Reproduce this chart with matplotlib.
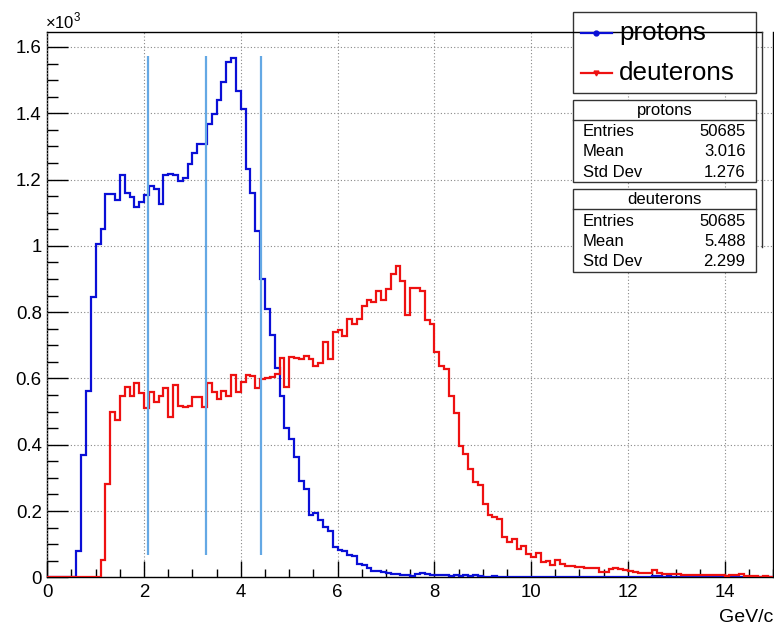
import matplotlib
matplotlib.use("Agg")
import matplotlib.pyplot as plt
import numpy as np
from matplotlib.patches import Rectangle

plt.rcParams['font.family'] = ['Liberation Sans', 'DejaVu Sans']
plt.rcParams['mathtext.fontset'] = 'custom'
plt.rcParams['mathtext.rm'] = 'Liberation Sans'

# momentum bins, 150 bins of 0.1 GeV/c from 0 to 15
nbins = 150
x_min, x_max = 0.0, 15.0

# counts per bin, in units of 10^3
protons = [
    0, 0, 0, 0, 0, 0, 0.078, 0.368, 0.562, 0.845,
    1.007, 1.050, 1.155, 1.155, 1.139, 1.214, 1.159, 1.148, 1.118, 1.133,
    1.153, 1.181, 1.171, 1.125, 1.213, 1.217, 1.213, 1.197, 1.204, 1.246,
    1.281, 1.308, 1.308, 1.368, 1.398, 1.441, 1.493, 1.556, 1.566, 1.467,
    1.412, 1.231, 1.160, 1.044, 0.901, 0.810, 0.731, 0.630, 0.547, 0.451,
    0.416, 0.364, 0.290, 0.267, 0.189, 0.194, 0.172, 0.152, 0.140, 0.090,
    0.083, 0.078, 0.068, 0.065, 0.040, 0.038, 0.027, 0.020, 0.018, 0.016,
    0.012, 0.011, 0.010, 0.006, 0.006, 0.005, 0.011, 0.012, 0.009, 0.006,
    0.007, 0.006, 0.007, 0.005, 0.007, 0.005, 0.006, 0.004, 0.006, 0.003,
    0.002, 0.002, 0.003, 0.002, 0.002, 0.001, 0.002, 0.001, 0.001, 0.002,
    0.001, 0.001, 0.002, 0.001, 0.001, 0.001, 0.002, 0.001, 0.001, 0.001,
    0.001, 0.001, 0.001, 0.000, 0.001, 0.001, 0.000, 0.001, 0.000, 0.000,
    0.000, 0.001, 0.000, 0.000, 0.000, 0.003, 0.003, 0.002, 0.003, 0.002,
    0.002, 0.001, 0.000, 0.000, 0.000, 0.001, 0.000, 0.000, 0.000, 0.000,
    0, 0, 0, 0, 0, 0, 0, 0, 0, 0,
]

deuterons = [
    0, 0, 0, 0, 0, 0, 0, 0, 0, 0,
    0.0, 0.052, 0.280, 0.499, 0.475, 0.547, 0.573, 0.547, 0.585, 0.555,
    0.510, 0.558, 0.530, 0.547, 0.572, 0.484, 0.580, 0.518, 0.515, 0.518,
    0.545, 0.543, 0.515, 0.586, 0.560, 0.538, 0.561, 0.548, 0.611, 0.559,
    0.588, 0.611, 0.606, 0.572, 0.599, 0.602, 0.604, 0.612, 0.661, 0.575,
    0.664, 0.661, 0.658, 0.667, 0.659, 0.636, 0.648, 0.709, 0.659, 0.741,
    0.746, 0.727, 0.780, 0.765, 0.780, 0.820, 0.838, 0.830, 0.865, 0.838,
    0.869, 0.916, 0.939, 0.893, 0.790, 0.873, 0.873, 0.865, 0.775, 0.765,
    0.679, 0.638, 0.628, 0.547, 0.497, 0.396, 0.371, 0.327, 0.287, 0.277,
    0.222, 0.187, 0.181, 0.176, 0.121, 0.105, 0.115, 0.085, 0.093, 0.071,
    0.062, 0.073, 0.047, 0.050, 0.037, 0.052, 0.040, 0.035, 0.033, 0.032,
    0.030, 0.029, 0.027, 0.028, 0.016, 0.017, 0.026, 0.027, 0.026, 0.022,
    0.019, 0.016, 0.014, 0.013, 0.012, 0.021, 0.013, 0.011, 0.010, 0.009,
    0.009, 0.008, 0.007, 0.008, 0.006, 0.007, 0.006, 0.007, 0.006, 0.006,
    0.005, 0.006, 0.007, 0.011, 0.004, 0.003, 0.003, 0.002, 0.003, 0.002,
]

# vertical cut lines
cut_x = [2.08, 3.29, 4.41]
cut_lo, cut_hi = 0.067, 1.573

legend_names = ['protons', 'deuterons']
stat_names = ['Entries', 'Mean', 'Std Dev']
stat_protons = ['50685', '3.016', '1.276']
stat_deuterons = ['50685', '5.488', '2.299']

c_p = '#0a0fd6'
c_d = '#ee1111'
c_cut = '#64a8e4'

W, H = 774, 626
fig = plt.figure(figsize=(W / 100, H / 100), dpi=100)

# axes box in pixels
L, R, T, B = 47.3, 773.0, 32.3, 577.3
ax = fig.add_axes([L / W, (H - B) / H, (R - L) / W, (B - T) / H])

edges = np.linspace(x_min, x_max, nbins + 1)
ax.stairs(protons, edges, color=c_p, lw=1.6, baseline=None, zorder=3)
ax.stairs(deuterons, edges, color=c_d, lw=1.6, baseline=None, zorder=3)
ax.vlines(cut_x, cut_lo, cut_hi, color=c_cut, lw=1.6, zorder=4)

ax.set_xlim(x_min, x_max)
ax.set_ylim(0, 1.05 * max(protons))

ax.set_xticks(np.arange(0, 15, 2))
ax.set_xticks(np.arange(0, 15.01, 0.5), minor=True)
ax.set_yticks(np.arange(0, 1.61, 0.2))
ax.set_yticks(np.arange(0, 1.64, 0.05), minor=True)
ax.set_yticklabels(['0', '0.2', '0.4', '0.6', '0.8', '1', '1.2', '1.4', '1.6'])
ax.set_xticklabels([str(v) for v in range(0, 15, 2)])

ax.tick_params(axis='both', which='both', direction='in', colors='black',
               labelsize=13.4, width=1.0)
ax.tick_params(axis='x', which='major', length=11.3, pad=5)
ax.tick_params(axis='x', which='minor', length=5.8)
ax.tick_params(axis='y', which='major', length=15, pad=4)
ax.tick_params(axis='y', which='minor', length=8)
ax.tick_params(axis='both', which='both', top=False, right=False)

ax.grid(True, which='major', ls=(0, (1, 2)), color='#888888', lw=0.8)
ax.set_axisbelow(False)
for s in ['top']:
    ax.spines[s].set_visible(False)
for s in ['left', 'bottom', 'right']:
    ax.spines[s].set_linewidth(1.0)
    ax.spines[s].set_color('black')

# overlay in pixel coordinates for ROOT-style boxes
ov = fig.add_axes([0, 0, 1, 1], zorder=10)
ov.set_xlim(0, W)
ov.set_ylim(H, 0)
ov.axis('off')

ov.plot([L, 761.7], [T, T], color='black', lw=1.0)
ov.plot([761.7, 761.7], [T, 247], color='#333333', lw=1.0)

ov.text(45, 28.5, r'$\times$10$^{3}$', fontsize=12, ha='left', va='baseline')
ov.text(773, 617, 'GeV/c', fontsize=14, ha='right', va='center')

# legend box
ov.add_patch(Rectangle((573.3, 12.3), 182.4, 81, facecolor='white',
                       edgecolor='#333333', lw=1.0))
leg_y = [33.3, 73.3]
leg_c = [c_p, c_d]
leg_m = ['o', 'v']
for name, yy, cc, mm in zip(legend_names, leg_y, leg_c, leg_m):
    ov.plot([580.7, 611.7], [yy, yy], color=cc, lw=1.6)
    ov.plot([596.2], [yy], marker=mm, color=cc, ms=3.5)
    ov.text(619.3, yy, name, fontsize=18.7, ha='left', va='center')

# stats boxes
boxes = [(100.0, 'protons', stat_protons), (189.3, 'deuterons', stat_deuterons)]
for top, title, vals in boxes:
    ov.add_patch(Rectangle((573.3, top), 182.4, 82.4, facecolor='white',
                           edgecolor='#333333', lw=1.0))
    ov.plot([573.3, 755.7], [top + 19.7, top + 19.7], color='#333333', lw=1.0)
    ov.text(664.5, top + 10, title, fontsize=12, ha='center', va='center')
    for k, (nm, vv) in enumerate(zip(stat_names, vals)):
        yy = top + 31.7 + 20.3 * k
        ov.text(582.7, yy, nm, fontsize=12, ha='left', va='center')
        ov.text(745.5, yy, vv, fontsize=12, ha='right', va='center')

fig.savefig('out.png', dpi=100)
